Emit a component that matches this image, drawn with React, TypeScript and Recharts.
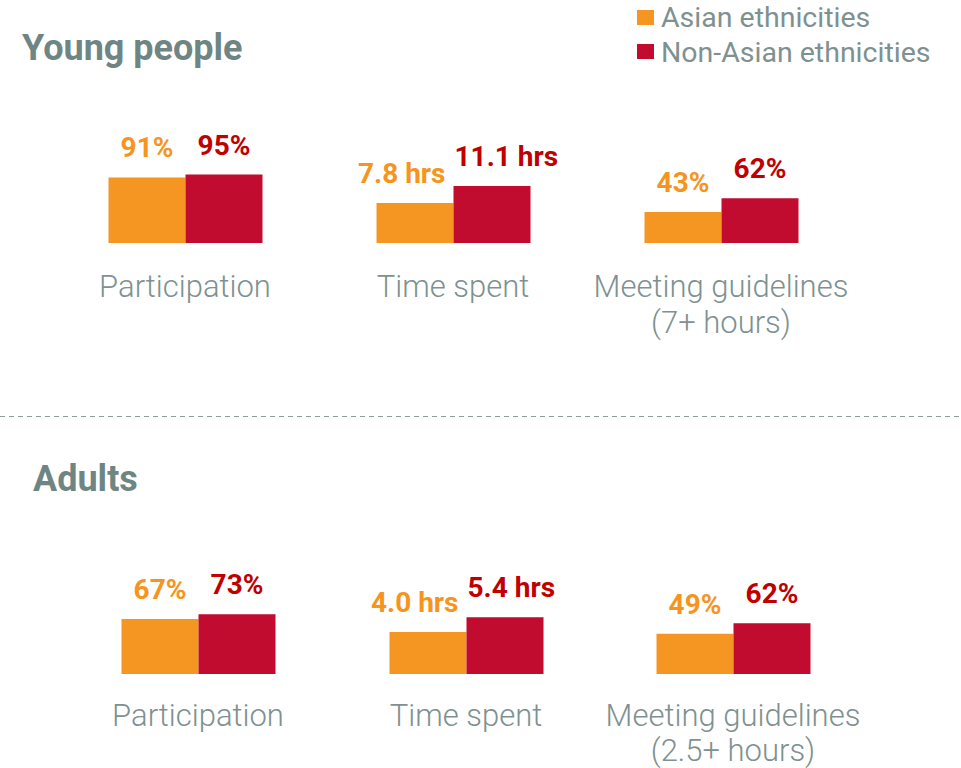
import React from "react";
import { BarChart, Bar, XAxis, YAxis, LabelList } from "recharts";

// young people
const categoriesYoung = ["Participation", "Time spent", "Meeting guidelines\n(7+ hours)"];
const asianYoung = [91, 7.8, 43];
const nonAsianYoung = [95, 11.1, 62];
const unitsYoung = ["%", "hrs", "%"];
const scaleMaxYoung = [100, 14, 100];

// adults
const categoriesAdults = ["Participation", "Time spent", "Meeting guidelines\n(2.5+ hours)"];
const asianAdults = [67, 4.0, 49];
const nonAsianAdults = [73, 5.4, 62];
const unitsAdults = ["%", "hrs", "%"];
const scaleMaxAdults = [100, 7.8, 100];

const seriesNames = ["Asian ethnicities", "Non-Asian ethnicities"];

const FONT = "Roboto, sans-serif";
const ORANGE = "#F59622";
const RED = "#C10C2F";
const ORANGE_TEXT = "#F7941D";
const RED_TEXT = "#C00000";
const TITLE = "#6E8584";
const GREY = "#7E9190";

const fmt = (v: number, unit: string) => (unit === "%" ? `${v}%` : `${v.toFixed(1)} hrs`);

function ValueLabel(props: any) {
  const { value, side, unit, color } = props;
  const x = Number(props.x), y = Number(props.y), width = Number(props.width);
  let tx = x + width / 2;
  let anchor: any = "middle";
  // wide "hrs" labels get pushed apart so they don't collide
  if (unit !== "%") {
    if (side === "left") { tx = x + width - 8; anchor = "end"; }
    else { tx = x + 1; anchor = "start"; }
  }
  return (
    <text x={tx} y={y - 20} textAnchor={anchor} fill={color} fontSize={28} fontWeight={700} fontFamily={FONT}>
      {fmt(value, unit)}
    </text>
  );
}

function CategoryTick(props: any) {
  const { x, y, payload, firstGap, lineGap } = props;
  const lines = String(payload.value).split("\n");
  return (
    <text x={x} y={y} textAnchor="middle" fill={GREY} fontSize={31} fontWeight={300} fontFamily={FONT}>
      {lines.map((l, i) => (
        <tspan key={i} x={x} dy={i === 0 ? firstGap : lineGap}>{l}</tspan>
      ))}
    </text>
  );
}

function Group({ category, asian, nonAsian, unit, max, left, top, height, marginTop, plotHeight, firstGap, lineGap }: any) {
  const data = [{ category, asian, nonAsian }];
  const axisH = height - marginTop - plotHeight;
  return (
    <div style={{ position: "absolute", left, top }}>
      <BarChart width={268} height={height} data={data}
        margin={{ top: marginTop, right: 57.5, bottom: 0, left: 57.5 }}
        barCategoryGap={0} barGap={0}>
        <XAxis dataKey="category" axisLine={false} tickLine={false} tickSize={0} tickMargin={0}
          height={axisH} interval={0} tick={<CategoryTick firstGap={firstGap} lineGap={lineGap} />} />
        <YAxis hide domain={[0, max]} allowDataOverflow />
        <Bar dataKey="asian" name={seriesNames[0]} fill={ORANGE} isAnimationActive={false}>
          <LabelList dataKey="asian" content={(p: any) => <ValueLabel {...p} side="left" unit={unit} color={ORANGE_TEXT} />} />
        </Bar>
        <Bar dataKey="nonAsian" name={seriesNames[1]} fill={RED} isAnimationActive={false}>
          <LabelList dataKey="nonAsian" content={(p: any) => <ValueLabel {...p} side="right" unit={unit} color={RED_TEXT} />} />
        </Bar>
      </BarChart>
    </div>
  );
}

const youngLefts = [50.5, 318.5, 586.5];
const adultLefts = [64, 331.5, 599];

export default function App() {
  return (
    <div style={{ position: "absolute", left: 0, top: 0, width: 961, height: 768, overflow: "hidden", background: "#fff" }}>
      <svg width={961} height={768} style={{ position: "absolute", left: 0, top: 0 }}>
        <text x={22} y={60} fill={TITLE} fontSize={36} fontWeight={700} fontFamily={FONT}>Young people</text>
        <text x={33} y={491} fill={TITLE} fontSize={36} fontWeight={700} fontFamily={FONT}>Adults</text>
        <line x1={0} x2={961} y1={416.5} y2={416.5} stroke="#8A9E9D" strokeWidth={1} strokeDasharray="5 4" />
        <rect x={637} y={10} width={17} height={15} fill={ORANGE} />
        <rect x={637} y={44} width={17} height={15} fill={RED} />
        <text x={661} y={27} fill={GREY} fontSize={28.5} fontFamily={FONT}>{seriesNames[0]}</text>
        <text x={661} y={61.5} fill={GREY} fontSize={28.5} fontFamily={FONT}>{seriesNames[1]}</text>
      </svg>
      {categoriesYoung.map((c, i) => (
        <Group key={"y" + i} category={c} asian={asianYoung[i]} nonAsian={nonAsianYoung[i]} unit={unitsYoung[i]}
          max={scaleMaxYoung[i]} left={youngLefts[i]} top={120} height={240} marginTop={51} plotHeight={72}
          firstGap={54} lineGap={36} />
      ))}
      {categoriesAdults.map((c, i) => (
        <Group key={"a" + i} category={c} asian={asianAdults[i]} nonAsian={nonAsianAdults[i]} unit={unitsAdults[i]}
          max={scaleMaxAdults[i]} left={adultLefts[i]} top={540} height={228} marginTop={52} plotHeight={82}
          firstGap={52} lineGap={35} />
      ))}
    </div>
  );
}
